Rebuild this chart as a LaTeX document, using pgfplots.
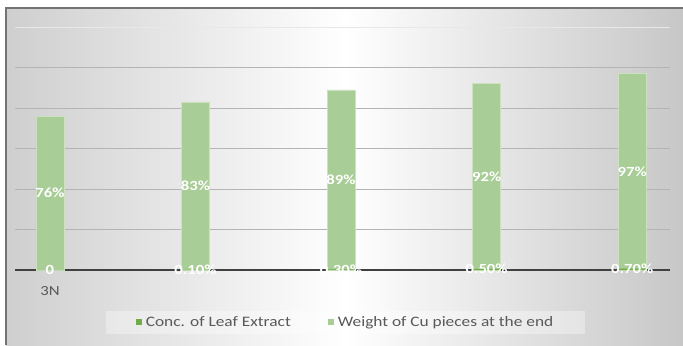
\documentclass[border=0pt]{standalone}
\usepackage{pgfplots}
\pgfplotsset{compat=1.18}
\usepackage{fontspec}
\setmainfont{Carlito}[FakeStretch=1.2]
\definecolor{barg}{RGB}{169,205,150}
\definecolor{darkg}{RGB}{112,173,71}
\definecolor{txtg}{RGB}{89,89,89}
\definecolor{gridg}{RGB}{180,180,180}
\begin{document}
\begin{tikzpicture}[x=1bp,y=1bp]
\useasboundingbox (0,0) rectangle (683,345);
\shade[left color=black!19, right color=black!22, middle color=white] (6,0) rectangle (683,337);
\draw[black!55, line width=2bp] (6,0) -- (6,337) -- (683,337);
\begin{axis}[
  at={(15bp,75bp)}, anchor=south west,
  scale only axis, width=655bp, height=243bp,
  xmin=-0.24, xmax=4.26, ymin=0, ymax=1.2,
  axis x line=bottom, axis y line=left,
  x axis line style={black!75, line width=1.3bp, -},
  y axis line style={draw=none},
  ytick={0.2,0.4,0.6,0.8,1.0}, yticklabels={},
  extra y ticks={1.2}, extra y tick labels={},
  extra y tick style={grid style={black!9, line width=0.9bp}},
  ymajorgrids, grid style={gridg, line width=0.9bp},
  xtick={0}, xticklabels={3N},
  major tick length=0pt,
  /pgf/number format/assume math mode=true,
  x tick label style={text=txtg, font=\fontsize{14}{16}\selectfont, yshift=-13bp},
  legend style={at={(0.5046,-0.216)}, anchor=center, legend columns=2,
    draw=none, fill=white, fill opacity=0.35, text opacity=1,
    text=txtg, font=\fontsize{14.5}{16}\selectfont,
    inner xsep=30bp, inner ysep=4bp,
    /tikz/every even column/.append style={column sep=35bp}},
  legend image code/.code={\fill[#1,draw=none,fill opacity=1] (0bp,-3bp) rectangle (6bp,3bp);
    \path[draw=none,fill=none] (0bp,0bp) rectangle (8bp,1bp);},
]
\addlegendimage{fill=darkg}
\addlegendentry{Conc. of Leaf Extract}
\addlegendimage{fill=barg}
\addlegendentry{Weight of Cu pieces at the end}
% Weight of Cu pieces at the end
\addplot[ybar, bar width=28bp, bar shift=0pt, fill=barg, draw=barg!60!white, forget plot,
  point meta={y*100},
  visualization depends on={rawy \as \rawy},
  nodes near coords={\pgfmathprintnumber[fixed,precision=0,assume math mode=true]{\pgfplotspointmeta}\%},
  every node near coord/.append style={anchor=center, text=white, font=\bfseries\fontsize{14}{16}\selectfont,
    shift={(axis direction cs:0,-\rawy/2)}}]
  coordinates {(0,0.76) (1,0.83) (2,0.89) (3,0.92) (4,0.97)};
% Conc. of Leaf Extract
\addplot[ybar, bar width=28bp, bar shift=0pt, fill=darkg, draw=none, forget plot,
  point meta=explicit symbolic,
  nodes near coords,
  every node near coord/.append style={anchor=center, text=white, font=\bfseries\fontsize{14}{16}\selectfont}]
  coordinates {(0,0) [0] (1,0.001) [0.10\%] (2,0.003) [0.30\%] (3,0.005) [0.50\%] (4,0.007) [0.70\%]};
\end{axis}
\end{tikzpicture}
\end{document}
